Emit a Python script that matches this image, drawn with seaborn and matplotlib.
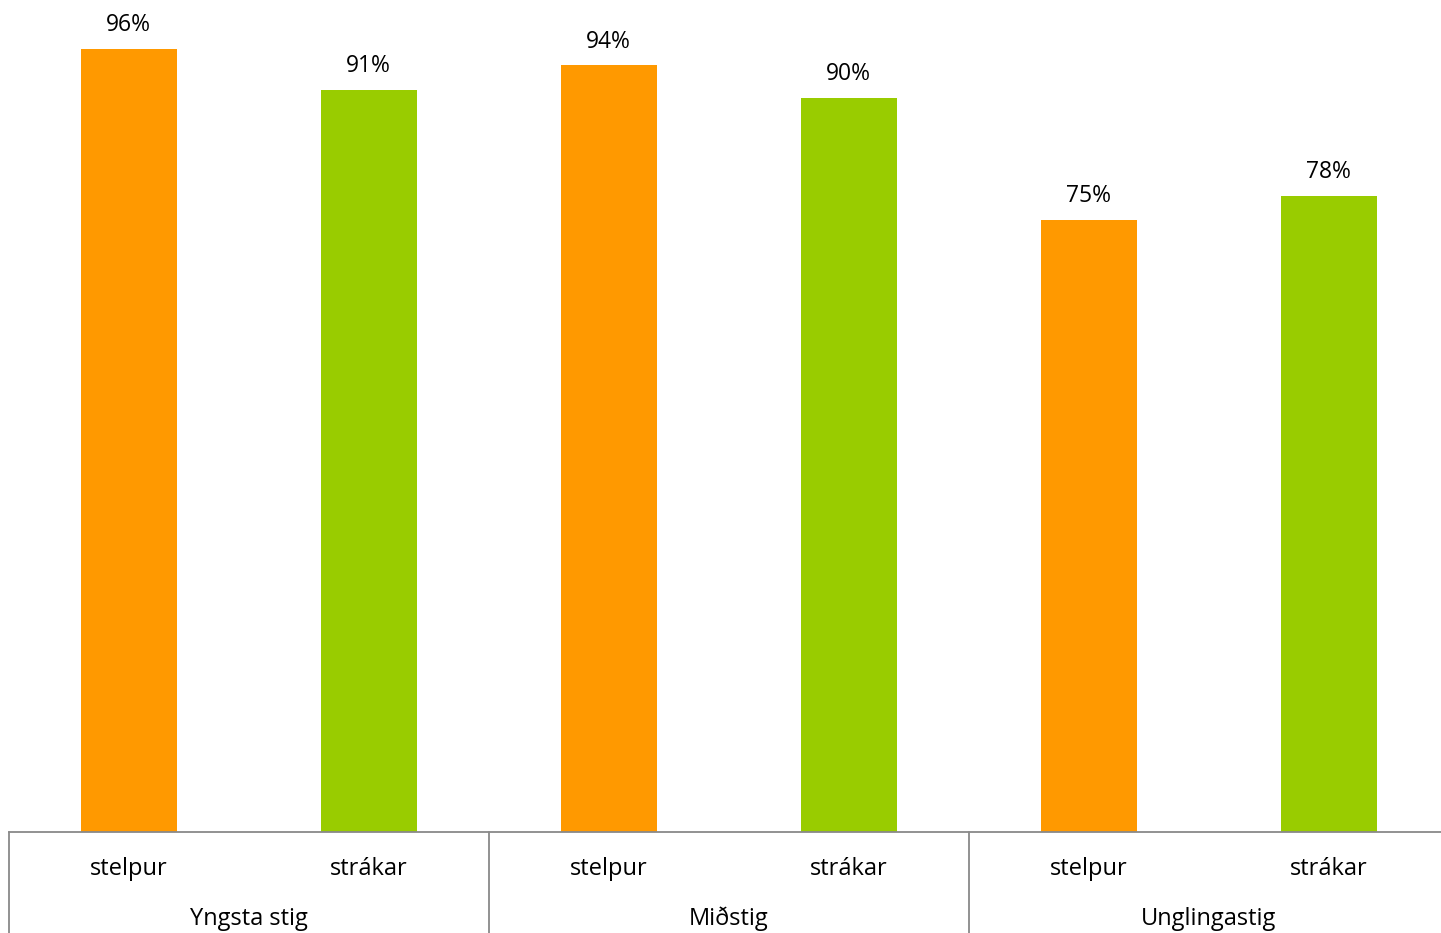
import matplotlib
matplotlib.use("Agg")
import matplotlib.pyplot as plt
import matplotlib.transforms as mtransforms
import seaborn as sns
import pandas as pd

sns.set_theme(style="white")
plt.rcParams["font.family"] = ["Open Sans", "DejaVu Sans"]

groups = ["Yngsta stig", "Miðstig", "Unglingastig"]
genders = ["stelpur", "strákar"]
values = [0.96, 0.91, 0.94, 0.90, 0.75, 0.78]
colors = {"stelpur": "#FF9900", "strákar": "#99CC00"}

rows = []
for gi, g in enumerate(groups):
    for si, s in enumerate(genders):
        rows.append({"pos": f"{g}|{s}", "group": g, "gender": s,
                     "value": values[gi * 2 + si]})
df = pd.DataFrame(rows)

W, H = 1441, 933
fig = plt.figure(figsize=(W / 100, H / 100), dpi=100)
ax = fig.add_axes([8.5 / W, (H - 832) / H, 1440 / W, (832 - 16.4) / H])

sns.barplot(data=df, x="pos", y="value", hue="gender", palette=colors,
            dodge=False, width=0.4, ax=ax, legend=False, saturation=1,
            linewidth=0)

ax.set_xlim(-0.5, len(df) - 0.5)
ax.set_ylim(0, 1)
ax.set_xlabel("")
ax.set_ylabel("")
ax.set_xticks([])
ax.set_yticks([])
for side in ["top", "right", "left"]:
    ax.spines[side].set_visible(False)
ax.spines["bottom"].set_color("#898989")
ax.spines["bottom"].set_linewidth(1.3)

# value labels above each bar
for i, v in enumerate(df["value"]):
    ax.annotate(f"{v * 100:.0f}%", (i, v), xytext=(0, 8.5), textcoords="offset points",
                ha="center", va="bottom", fontsize=16.5, color="#000000")

# two-level category axis below the bars
trans = mtransforms.blended_transform_factory(ax.transData, ax.transAxes)
px = 1 / (832 - 16.4)
for i, s in enumerate(df["gender"]):
    ax.text(i, -37 * px, s, transform=trans, ha="center", va="center",
            fontsize=17, color="#000000")
for gi, g in enumerate(groups):
    ax.text(gi * 2 + 0.5, -87 * px, g, transform=trans, ha="center", va="center",
            fontsize=17, color="#000000")
for b in [-0.5, 1.5, 3.5]:
    ax.plot([b, b], [0, -110 * px], transform=trans, color="#898989",
            lw=1.3, clip_on=False)

fig.savefig("out.png", dpi=100)
